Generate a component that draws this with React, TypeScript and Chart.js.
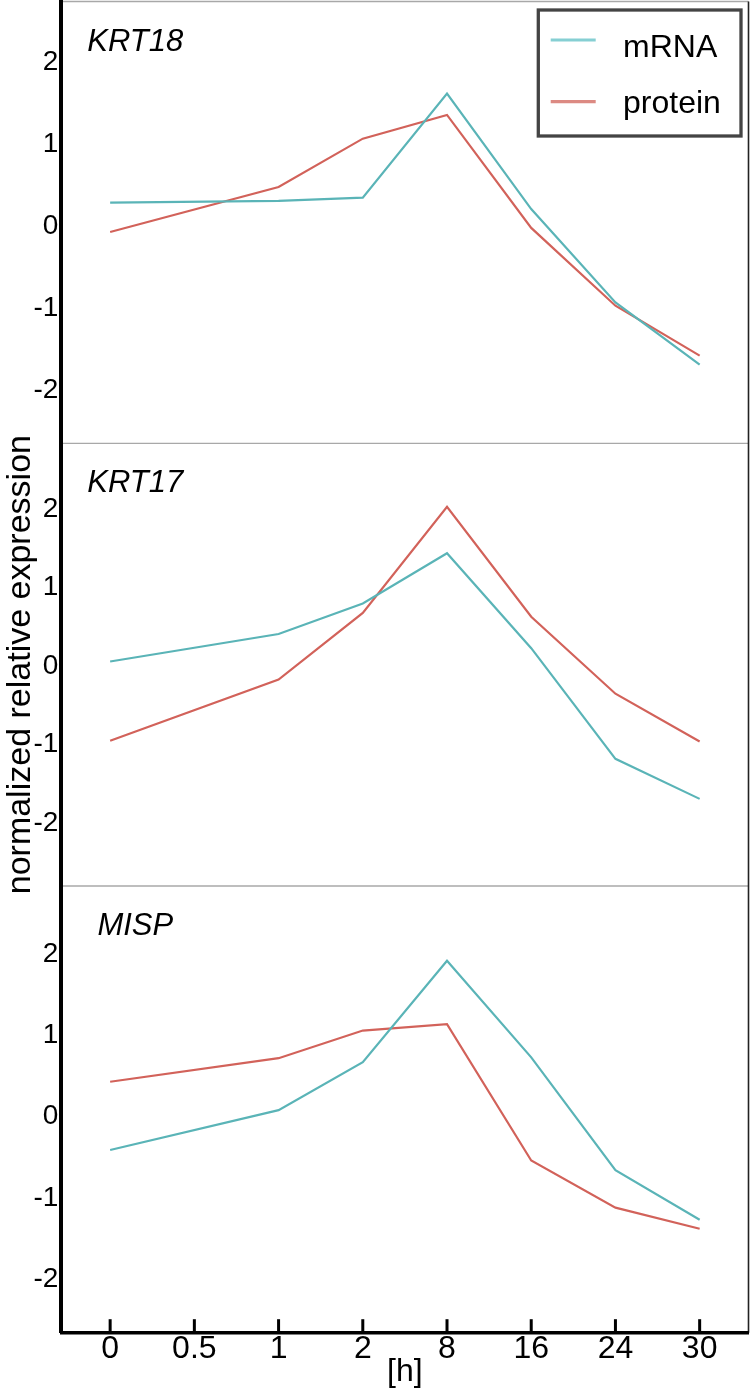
import React, { useEffect, useRef } from 'react';
import { Chart, registerables } from 'chart.js';

Chart.register(...registerables);

// ---- data ----
const xLabels = ['0', '0.5', '1', '2', '8', '16', '24', '30'];
const genes = ['KRT18', 'KRT17', 'MISP'];
const seriesNames = ['mRNA', 'protein'];
const yTicks = [-2, -1, 0, 1, 2];

// values aligned with xLabels; null = no measurement at 0.5 h
const krt18Mrna = [0.29, null, 0.31, 0.35, 1.62, 0.21, -0.93, -1.69];
const krt18Protein = [-0.07, null, 0.48, 1.07, 1.36, -0.02, -0.97, -1.58];
const krt17Mrna = [0.06, null, 0.41, 0.8, 1.44, 0.23, -1.18, -1.69];
const krt17Protein = [-0.95, null, -0.17, 0.68, 2.03, 0.63, -0.35, -0.96];
const mispMrna = [-0.41, null, 0.08, 0.67, 1.92, 0.73, -0.66, -1.27];
const mispProtein = [0.43, null, 0.72, 1.06, 1.14, -0.54, -1.12, -1.38];

const panelMin = [-2.65, -2.8, -2.66];
const panelMax = [2.745, 2.84, 2.84];

// ---- styles ----
const FONT = "'Liberation Sans', Arial, Helvetica, sans-serif";
const lineColors = ['#5ab4b7', '#d2625a'];
const legendColors = ['#86cfd3', '#dc8a83'];
const panelWeights = [441.8, 442.7, 446.7];

const panels = [
  [krt18Mrna, krt18Protein],
  [krt17Mrna, krt17Protein],
  [mispMrna, mispProtein],
];

const decorPlugin = {
  id: 'decor',
  beforeDraw(chart: any) {
    const { ctx, chartArea } = chart;
    ctx.save();
    // panel frame lines (top of each panel)
    ctx.strokeStyle = '#a8a8a8';
    ctx.lineWidth = 1.3;
    for (let p = 0; p < 3; p++) {
      const s = chart.scales['y' + p];
      const y = s.top;
      ctx.beginPath();
      ctx.moveTo(chartArea.left, y);
      ctx.lineTo(chartArea.right, y);
      ctx.stroke();
    }
    // right border
    ctx.strokeStyle = '#222';
    ctx.lineWidth = 1.6;
    ctx.beginPath();
    ctx.moveTo(chartArea.right, chartArea.top);
    ctx.lineTo(chartArea.right, chartArea.bottom);
    ctx.stroke();
    ctx.restore();
  },
  afterDraw(chart: any) {
    const { ctx, chartArea } = chart;
    const xs = chart.scales.x;
    ctx.save();
    // inward tick marks on the x axis
    ctx.strokeStyle = '#000';
    ctx.lineWidth = 3;
    xs.ticks.forEach((t: any) => {
      const px = xs.getPixelForValue(t.value);
      ctx.beginPath();
      ctx.moveTo(px, chartArea.bottom);
      ctx.lineTo(px, chartArea.bottom - 13.5);
      ctx.stroke();
    });
    // gene labels
    ctx.fillStyle = '#000';
    ctx.font = 'italic 31px ' + FONT;
    ctx.textAlign = 'center';
    ctx.textBaseline = 'alphabetic';
    genes.forEach((g, p) => {
      const s = chart.scales['y' + p];
      ctx.fillText(g, chartArea.left + 74, s.top + 49);
    });
    // legend
    const boxR = chartArea.right - 7.5;
    const boxW = 202.7;
    const boxL = boxR - boxW;
    const boxT = chartArea.top + 8.5;
    const boxH = 126;
    ctx.fillStyle = '#fff';
    ctx.fillRect(boxL, boxT, boxW, boxH);
    ctx.strokeStyle = '#444';
    ctx.lineWidth = 3.3;
    ctx.strokeRect(boxL, boxT, boxW, boxH);
    ctx.font = '32px ' + FONT;
    ctx.textAlign = 'left';
    seriesNames.forEach((name, i) => {
      const ly = boxT + 30 + i * 61.7;
      ctx.strokeStyle = legendColors[i];
      ctx.lineWidth = 3.2;
      ctx.beginPath();
      ctx.moveTo(boxL + 12.4, ly);
      ctx.lineTo(boxL + 57.4, ly);
      ctx.stroke();
      ctx.fillStyle = '#000';
      ctx.fillText(name, boxL + 84.7, boxT + 46.5 + i * 56);
    });
    ctx.restore();
  },
};

function yScale(p: number) {
  return {
    type: 'linear',
    position: 'left',
    stack: 'panels',
    stackWeight: panelWeights[p],
    weight: 3 - p,
    min: panelMin[p],
    max: panelMax[p],
    afterBuildTicks: (s: any) => {
      s.ticks = yTicks.map((v) => ({ value: v }));
    },
    afterFit: (s: any) => {
      s.width = 61.3;
      s.paddingTop = 0;
      s.paddingBottom = 0;
    },
    grid: { display: false, drawTicks: false },
    border: { display: true, color: '#000', width: 4 },
    ticks: {
      color: '#000',
      font: { family: FONT, size: 28 },
      padding: 3,
      callback: (v: any) => String(v),
    },
    title:
      p === 1
        ? {
            display: true,
            text: 'normalized relative expression',
            color: '#000',
            font: { family: FONT, size: 34, lineHeight: 1.2 },
            padding: 0,
          }
        : { display: false },
  };
}

export default function App() {
  const canvasRef = useRef<HTMLCanvasElement | null>(null);

  useEffect(() => {
    document.body.style.margin = '0';
    const canvas = canvasRef.current;
    if (!canvas) return;

    const datasets = panels.flatMap((pair, p) =>
      pair.map((vals, s) => ({
        label: seriesNames[s],
        data: vals
          .map((v, i) => ({ x: i, y: v }))
          .filter((d) => d.y !== null),
        yAxisID: 'y' + p,
        borderColor: lineColors[s],
        backgroundColor: lineColors[s],
        borderWidth: 2.2,
        pointRadius: 0,
        tension: 0,
        fill: false,
      }))
    );

    const chart = new Chart(canvas, {
      type: 'line',
      data: { datasets } as any,
      options: {
        animation: false,
        responsive: false,
        devicePixelRatio: 1,
        layout: { padding: { top: 1.5, right: 3.5, left: 0, bottom: 0 } },
        plugins: {
          legend: { display: false },
          tooltip: { enabled: false },
        },
        scales: {
          x: {
            type: 'linear',
            position: 'bottom',
            min: -0.58,
            max: 7.58,
            afterBuildTicks: (s: any) => {
              s.ticks = xLabels.map((_, i) => ({ value: i }));
            },
            afterFit: (s: any) => {
              s.height = 59.3;
              s.paddingLeft = 0;
              s.paddingRight = 0;
            },
            grid: { display: false, drawTicks: false },
            border: { display: true, color: '#000', width: 3.5 },
            ticks: {
              color: '#000',
              font: { family: FONT, size: 32, lineHeight: 1 },
              padding: 0,
              maxRotation: 0,
              autoSkip: false,
              callback: (v: any) => xLabels[v],
            },
            title: {
              display: true,
              text: '[h]',
              color: '#000',
              font: { family: FONT, size: 32, lineHeight: 1 },
              padding: { top: 0, bottom: 4.3 },
            },
          },
          y2: yScale(2),
          y1: yScale(1),
          y0: yScale(0),
        } as any,
      },
      plugins: [decorPlugin],
    });

    return () => chart.destroy();
  }, []);

  return (
    <div style={{ width: 752, height: 1392, background: '#fff' }}>
      <canvas ref={canvasRef} width={752} height={1392} />
    </div>
  );
}
